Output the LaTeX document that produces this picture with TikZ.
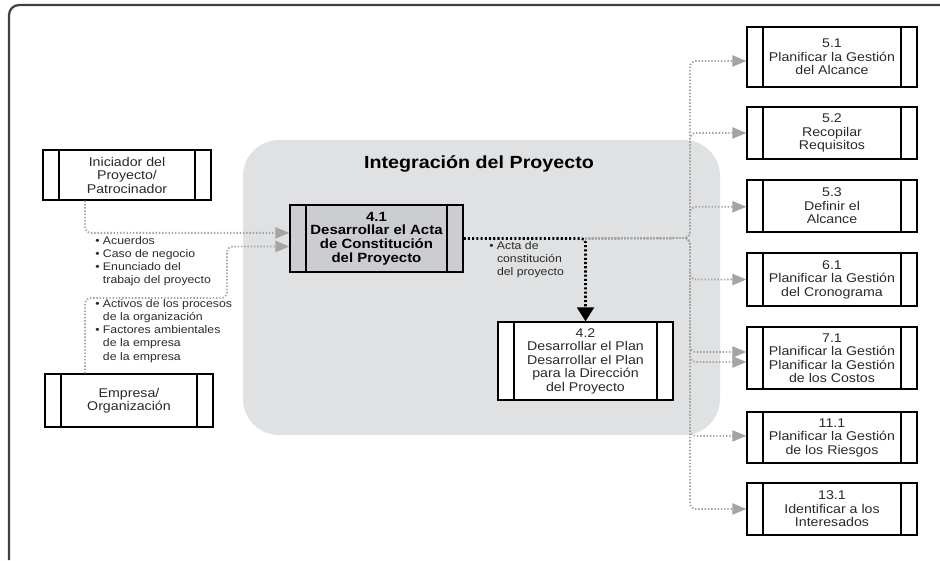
\documentclass[tikz,border=0pt]{standalone}
\usepackage{fontspec}
\setmainfont{Liberation Sans}[FakeStretch=1.12]
\usepackage{tikz}
\usetikzlibrary{arrows.meta}
\usetikzlibrary{positioning}
\definecolor{zona}{HTML}{DFE1E3}
\definecolor{zonaosc}{HTML}{CBCDD0}
\definecolor{flecha}{HTML}{A4A4A4}
\definecolor{texto}{HTML}{2A2A2A}

\begin{document}
\begin{tikzpicture}[x=0.025cm, y=-0.025cm,
	proc/.style={draw, line width=0.9pt, fill=white, align=center, inner sep=1pt,
		text=texto, font=\fontsize{9}{9.6}\selectfont,
		path picture={\draw[line width=0.9pt]
			([xshift=0.4cm]path picture bounding box.north west) -- ([xshift=0.4cm]path picture bounding box.south west)
			([xshift=-0.4cm]path picture bounding box.north east) -- ([xshift=-0.4cm]path picture bounding box.south east);}},
	derecha/.style={proc, minimum width=4.25cm},
	lista/.style={align=left, anchor=north west, inner sep=0pt, text=texto,
		font=\fontsize{7.8}{9.4}\selectfont},
	gris/.style={draw=flecha, line width=1.3pt, dash pattern=on 1pt off 1.3pt,
		rounded corners=0.15cm, -{Triangle[length=0.35cm,width=0.28cm,fill=flecha]}},
	negro/.style={draw=black, line width=1.8pt, dash pattern=on 1.5pt off 1.5pt,
		rounded corners=0.1cm, -{Triangle[length=0.35cm,width=0.42cm]}}]
	\useasboundingbox (0,0) rectangle (940,560);
	% marco
	\draw[line width=1.6pt, black!75, rounded corners=0.25cm] (9,560) |- (940,5);
	% zona de integracion
	\fill[zona, rounded corners=0.9cm] (243,140) rectangle (720,435);
	\node [font=\fontsize{12.5}{14}\bfseries\selectfont] (tit) at (479,164) {Integración del Proyecto};
	% entradas
	\node [proc, minimum width=4.2cm, minimum height=1.25cm] (ini) at (127,175) {Iniciador del\\Proyecto/\\Patrocinador};
	\node [proc, minimum width=4.2cm, minimum height=1.325cm] (emp) at (129,400.5) {Empresa/\\Organización};
	% procesos del grupo
	\node [proc, fill=zonaosc, minimum width=4.325cm, minimum height=1.675cm,
		font=\fontsize{9.5}{9.8}\bfseries\selectfont, text=black] (p41) at (376.5,238.5)
		{4.1\\Desarrollar el Acta\\de Constitución\\del Proyecto};
	\node [proc, minimum width=4.375cm, minimum height=1.95cm] (p42) at (585.5,361)
		{4.2\\Desarrollar el Plan\\Desarrollar el Plan\\para la Dirección\\del Proyecto};
	% procesos de salida
	\node [derecha, minimum height=1.5cm] (p51) at (832,57) {5.1\\Planificar la Gestión\\del Alcance};
	\node [derecha, minimum height=1.3cm] (p52) at (832,133) {5.2\\Recopilar\\Requisitos};
	\node [derecha, minimum height=1.3cm] (p53) at (832,206) {5.3\\Definir el\\Alcance};
	\node [derecha, minimum height=1.325cm] (p61) at (832,279.5) {6.1\\Planificar la Gestión\\del Cronograma};
	\node [derecha, minimum height=1.55cm] (p71) at (832,358) {7.1\\Planificar la Gestión\\Planificar la Gestión\\de los Costos};
	\node [derecha, minimum height=1.275cm] (p111) at (832,437.5) {11.1\\Planificar la Gestión\\de los Riesgos};
	\node [derecha, minimum height=1.3cm] (p131) at (832,509) {13.1\\Identificar a los\\Interesados};
	% listas
	\node [lista] (l1) at (95,236) {• Acuerdos\\• Caso de negocio\\• Enunciado del\\\phantom{• }trabajo del proyecto};
	\node [lista] (l2) at (95,299) {• Activos de los procesos\\\phantom{• }de la organización\\• Factores ambientales\\\phantom{• }de la empresa\\\phantom{• }de la empresa};
	\node [lista] (l3) at (489,241) {• Acta de\\\phantom{• }constitución\\\phantom{• }del proyecto};
	% flechas de entrada
	\coordinate (cod) at (227,298);
	\draw[gris] ([xshift=-1.05cm]ini.south) |- ([yshift=0.14cm]p41.west);
	\draw[gris] ([xshift=-1.1cm]emp.north) |- (cod) |- ([yshift=-0.2cm]p41.west);
	% acta
	\coordinate (div) at (p42.north |- p41.east);
	\coordinate (tr) at (690,238);
	\draw[negro] (p41.east) -- (div) -- (p42.north);
	% salidas
	\draw[gris] (div) -- (tr) |- ([yshift=-0.1cm]p51.west);
	\draw[gris] (div) -- (tr) |- (p52.west);
	\draw[gris] (div) -- (tr) |- ([yshift=-0.02cm]p53.west);
	\draw[gris] (div) -- (tr) |- (p61.west);
	\draw[gris] (div) -- (tr) |- ([yshift=0.15cm]p71.west);
	\draw[gris] (div) -- (tr) |- ([yshift=-0.1cm]p71.west);
	\draw[gris] (div) -- (tr) |- ([yshift=0.04cm]p111.west);
	\draw[gris] (div) -- (tr) |- (p131.west);
\end{tikzpicture}
\end{document}
